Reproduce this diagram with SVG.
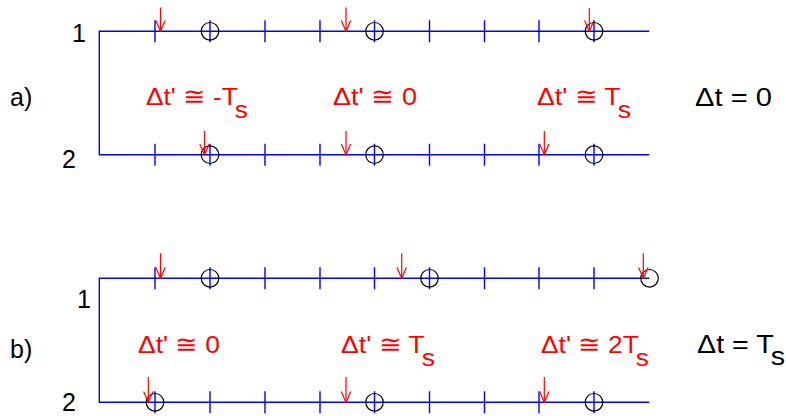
<svg xmlns="http://www.w3.org/2000/svg" width="786" height="416" viewBox="0 0 786 416">
<defs>
<style>
.ax{fill:none;stroke:#0000ff;stroke-width:1.4}
.tk{stroke:#0000ff;stroke-width:1.4}
.cr{fill:none;stroke:#000;stroke-width:1.2}
.ar{stroke:#ff0000;stroke-width:1.2;fill:none;marker-end:url(#head)}
.lb{font-family:"Liberation Sans",Arial,sans-serif;font-size:25px;fill:#000}
.rd{font-family:"Liberation Sans",Arial,sans-serif;font-size:24.5px;fill:#ff0000}
</style>
<marker id="head" markerUnits="userSpaceOnUse" viewBox="-12 -6 13 12" refX="0" refY="0" markerWidth="13" markerHeight="12" orient="auto">
<path d="M-10.7,-4.7 L0,0 L-10.7,4.7" fill="none" stroke="#ff0000" stroke-width="1.2"/>
</marker>
<path id="ticks" d="M155,-11V11M210,-11V11M265,-11V11M320,-11V11M374.5,-11V11M429.5,-11V11M484.5,-11V11M539,-11V11M594,-11V11" class="tk"/>
</defs>

<g id="panel-a">
<g id="axes-a">
<path class="ax" d="M649.3,31.3H99.3V154.7H649.3"/>
<use href="#ticks" y="31.3"/>
<use href="#ticks" y="154.7"/>
</g>
<g id="samples-a">
<circle class="cr" cx="210" cy="31.3" r="8.8"/>
<circle class="cr" cx="374.5" cy="31.3" r="8.8"/>
<circle class="cr" cx="594" cy="31.3" r="8.8"/>
<circle class="cr" cx="210" cy="154.7" r="8.8"/>
<circle class="cr" cx="374.5" cy="154.7" r="8.8"/>
<circle class="cr" cx="594" cy="154.7" r="8.8"/>
</g>
<g id="arrows-a">
<path class="ar" d="M160.5,7.5V31.3"/>
<path class="ar" d="M346,7.5V31.3"/>
<path class="ar" d="M589.3,8V31.3"/>
<path class="ar" d="M204.5,131V154.7"/>
<path class="ar" d="M346,131V154.7"/>
<path class="ar" d="M544.3,131V154.7"/>
</g>
<g id="labels-a">
<text class="lb" x="10" y="106" font-size="26">a)</text>
<text class="lb" x="72" y="42">1</text>
<text class="lb" x="62" y="168">2</text>
<text class="rd" x="146" y="105" textLength="102" lengthAdjust="spacingAndGlyphs">Δt' ≅ -T<tspan dy="13">s</tspan></text>
<text class="rd" x="333" y="105" textLength="84" lengthAdjust="spacingAndGlyphs">Δt' ≅ 0</text>
<text class="rd" x="537" y="105" textLength="94" lengthAdjust="spacingAndGlyphs">Δt' ≅ T<tspan dy="13">s</tspan></text>
<text class="lb" x="695" y="106" textLength="77" lengthAdjust="spacingAndGlyphs">Δt = 0</text>
</g>
</g>

<g id="panel-b">
<g id="axes-b">
<path class="ax" d="M649.3,278.3H99.3V402.3H649.3"/>
<use href="#ticks" y="278.3"/>
<use href="#ticks" y="402.3"/>
</g>
<g id="samples-b">
<circle class="cr" cx="210" cy="278.3" r="8.8"/>
<circle class="cr" cx="429.5" cy="278.3" r="8.8"/>
<circle class="cr" cx="649.5" cy="278.3" r="8.8"/>
<circle class="cr" cx="155" cy="402.3" r="8.8"/>
<circle class="cr" cx="374.5" cy="402.3" r="8.8"/>
<circle class="cr" cx="594" cy="402.3" r="8.8"/>
</g>
<g id="arrows-b">
<path class="ar" d="M160.5,253.3V278.3"/>
<path class="ar" d="M401.7,253.3V278.3"/>
<path class="ar" d="M643.3,253.3V278.3"/>
<path class="ar" d="M148.3,377V402.3"/>
<path class="ar" d="M346,377V402.3"/>
<path class="ar" d="M544.3,377V402.3"/>
</g>
<g id="labels-b">
<text class="lb" x="10" y="358" font-size="26">b)</text>
<text class="lb" x="77" y="308">1</text>
<text class="lb" x="62" y="411" font-size="24">2</text>
<text class="rd" x="138" y="353" textLength="82" lengthAdjust="spacingAndGlyphs">Δt' ≅ 0</text>
<text class="rd" x="341" y="353" textLength="94" lengthAdjust="spacingAndGlyphs">Δt' ≅ T<tspan dy="13">s</tspan></text>
<text class="rd" x="541" y="353" textLength="108" lengthAdjust="spacingAndGlyphs">Δt' ≅ 2T<tspan dy="13">s</tspan></text>
<text class="lb" x="697" y="353" textLength="88" lengthAdjust="spacingAndGlyphs">Δt = T<tspan dy="12">s</tspan></text>
</g>
</g>
</svg>
